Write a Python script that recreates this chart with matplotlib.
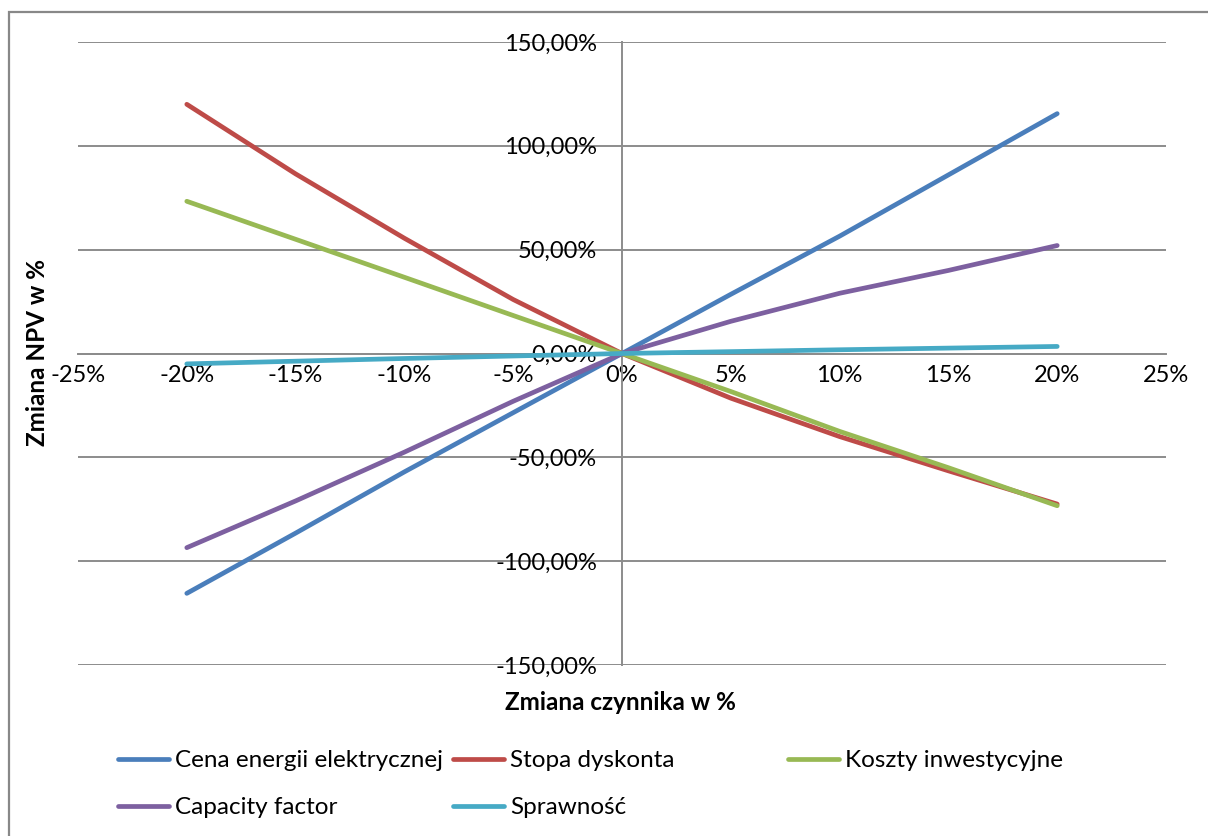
import matplotlib.pyplot as plt
from matplotlib.lines import Line2D
from matplotlib.patches import Rectangle
from matplotlib.ticker import FuncFormatter

plt.rcParams['font.family'] = ['Lato', 'DejaVu Sans']

# zmiana czynnika [%]
zmiana = [-20, -15, -10, -5, 0, 5, 10, 15, 20]

# zmiana NPV [%] dla poszczegolnych czynnikow
cena_energii = [-115.5, -86.5, -57.0, -28.5, 0.0, 28.5, 56.5, 86.0, 115.5]
stopa_dyskonta = [120.0, 86.5, 55.5, 26.0, 0.0, -21.5, -40.0, -56.5, -72.5]
koszty_inw = [73.3, 55.0, 36.7, 18.3, 0.0, -18.3, -37.5, -55.0, -73.3]
capacity = [-93.5, -71.0, -47.5, -23.0, 0.0, 15.5, 29.0, 40.0, 52.0]
sprawnosc = [-5.0, -3.7, -2.4, -1.2, 0.0, 0.9, 1.8, 2.6, 3.4]

serie = [
    ('Cena energii elektrycznej', cena_energii, '#4A7EBB'),
    ('Stopa dyskonta', stopa_dyskonta, '#BE4B48'),
    ('Koszty inwestycyjne', koszty_inw, '#98B954'),
    ('Capacity factor', capacity, '#7D60A0'),
    ('Sprawność', sprawnosc, '#46AAC5'),
]

x_ticks = [-25, -20, -15, -10, -5, 0, 5, 10, 15, 20, 25]
y_ticks = [-150, -100, -50, 0, 50, 100, 150]

W, H = 1208, 836
fig = plt.figure(figsize=(W / 100, H / 100), dpi=100)
ax = fig.add_axes([78 / W, 1 - 665 / H, (1166 - 78) / W, (665 - 42) / H])

grid_c = '#8C8C8C'
fs = 17
for i, (name, vals, col) in enumerate(serie):
    ax.plot(zmiana, vals, color=col, lw=3.4, solid_capstyle='round',
            solid_joinstyle='round', zorder=3 + i)

ax.set_xlim(-25, 25)
ax.set_ylim(-150, 150)
ax.set_xticks(x_ticks)
ax.set_yticks(y_ticks)
ax.xaxis.set_major_formatter(FuncFormatter(lambda v, p: f'{v:.0f}%'))
ax.yaxis.set_major_formatter(
    FuncFormatter(lambda v, p: f'{v:.2f}%'.replace('.', ',').replace('-0,00', '0,00')))

ax.grid(axis='y', color=grid_c, lw=1.4, zorder=1)
for s in ['top', 'right']:
    ax.spines[s].set_visible(False)
ax.spines['left'].set_position(('data', 0))
ax.spines['bottom'].set_position(('data', 0))
ax.spines['left'].set_color(grid_c)
ax.spines['bottom'].set_color(grid_c)
ax.spines['left'].set_linewidth(1.4)
ax.spines['bottom'].set_linewidth(1.4)
ax.tick_params(axis='both', length=0, labelsize=fs, labelcolor='black')
ax.tick_params(axis='x', pad=8)
ax.tick_params(axis='y', pad=18)

fig.text(620 / W, 1 - 703 / H, 'Zmiana czynnika w %', ha='center', va='center',
         fontsize=17.5, fontweight='bold')
fig.text(38 / W, 1 - 353 / H, 'Zmiana NPV w %', ha='center', va='center',
         rotation=90, fontsize=17.5, fontweight='bold')

# legenda: trzy kolumny o rownej szerokosci
kolumny = [(118, [serie[0], serie[3]]), (453, [serie[1], serie[4]]), (788, [serie[2]])]
for x0, items in kolumny:
    handles = [Line2D([], [], color=c, lw=3.4, solid_capstyle='round') for _, _, c in items]
    labels = [n for n, _, _ in items]
    fig.legend(handles, labels, loc='upper left', bbox_to_anchor=(x0 / W, 1 - 750 / H),
               frameon=False, fontsize=17.5, handlelength=2.1, handletextpad=0.25,
               borderpad=0, borderaxespad=0, labelspacing=1.07)

fig.add_artist(Rectangle((9 / W, -0.1), 1.2, 1 - 12 / H + 0.1, transform=fig.transFigure,
                         fill=False, edgecolor='#888888', lw=1.6))

fig.savefig('out.png', dpi=100)
